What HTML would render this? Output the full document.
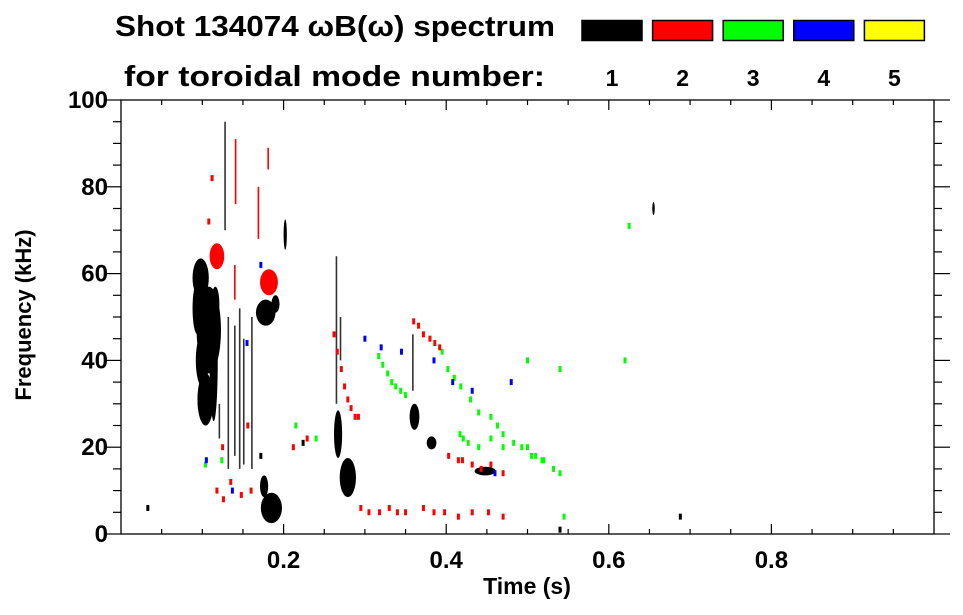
<!DOCTYPE html>
<html><head><meta charset="utf-8"><style>
body{margin:0;background:#fff;}
svg{display:block;font-family:"Liberation Sans",sans-serif;font-weight:bold;}
</style></head><body>
<svg id="chart" width="963" height="615">
<text x="115" y="36" font-size="29" textLength="440" lengthAdjust="spacingAndGlyphs">Shot 134074 ωB(ω) spectrum</text>
<text x="124" y="86" font-size="29" textLength="421" lengthAdjust="spacingAndGlyphs">for toroidal mode number:</text>
<g id="legend"></g>
<g id="marks"></g>
<g id="axes"></g>
<text x="527" y="594" font-size="23" text-anchor="middle">Time (s)</text>
<text transform="translate(31,315) rotate(-90)" font-size="22" text-anchor="middle">Frequency (kHz)</text>
</svg>
<script>
const modes=[1,2,3,4,5];
const modeColors=["#000","#f00","#0f0","#00f","#ff0"];
const xTicks=[0.2,0.4,0.6,0.8];
const yTicks=[0,20,40,60,80,100];
// blobs: center time, center freq, width (s), height (kHz), mode index
const blobT=[0.108,0.098,0.104,0.114,0.094,0.178,0.185,0.176,0.202,0.118,0.182,0.267,0.279,0.361,0.382,0.448,0.655,0.100,0.116,0.190];
const blobF=[47,59,31,40,52,51,6,11,69,64,58,23,13,27,21,14.5,75,40,53,53];
const blobDT=[0.030,0.020,0.020,0.010,0.012,0.024,0.026,0.010,0.004,0.018,0.022,0.010,0.020,0.012,0.012,0.026,0.003,0.016,0.010,0.010];
const blobDF=[20,9,12,28,12,6,7,5,7,6,6,11,9,6,3,2,3,12,8,4];
const blobMode=[0,0,0,0,0,0,0,0,0,1,1,0,0,0,0,0,0,0,0,0];
// thin vertical streaks: time, fLow, fHigh, mode
const lineT=[0.132,0.140,0.146,0.151,0.161,0.121,0.128,0.265,0.270,0.359,0.141,0.169,0.140,0.181];
const lineLo=[15,18,15,16,15,22,70,30,40,33,76,68,54,84];
const lineHi=[50,48,52,45,50,30,95,64,50,46,91,80,62,89];
const lineMode=[0,0,0,0,0,0,0,0,0,0,1,1,1,1];
// specks: time, freq, mode
const specT=[0.033,0.104,0.118,0.126,0.135,0.148,0.160,0.124,0.112,0.108,0.125,0.156,0.172,0.212,0.215,0.229,0.262,0.266,0.271,0.275,0.279,0.283,0.288,0.292,
0.295,0.305,0.318,0.330,0.340,0.350,0.372,0.385,0.398,0.415,0.432,0.452,0.470,
0.317,0.322,0.328,0.333,0.338,0.344,0.350,0.395,0.402,0.410,0.418,0.430,0.440,0.455,0.463,0.470,0.483,0.493,0.505,0.520,0.532,0.540,
0.417,0.421,0.427,0.440,0.455,0.470,0.500,0.510,0.518,0.545,
0.360,0.366,0.372,0.380,0.386,0.392,0.403,0.415,0.420,0.432,0.443,0.455,0.470,
0.105,0.137,0.155,0.172,0.300,0.320,0.345,0.385,0.408,0.432,0.460,0.480,0.500,0.540,0.620,0.688,0.625,0.240,0.224,0.540];
const specF=[6,16,10,8,12,9,10,17,82,72,20,25,18,20,25,22,46,42,38,34,31,29,27,27,
6,5,5,6,5,5,6,5,5,4,5,5,4,
41,39,37,35,34,33,32,42,38,36,34,31,28,27,25,23,21,20,18,17,15,14,
23,22,21,20,22,20,20,18,17,4,
49,48,46,45,44,43,18,17,17,16,15,16,14,
17,10,44,62,45,43,42,40,35,33,14,35,40,38,40,4,71,22,21,1];
const specMode=[0,2,1,1,1,1,1,2,1,1,1,1,0,1,2,1,1,1,1,1,1,1,1,1,
1,1,1,1,1,1,1,1,1,1,1,1,1,
2,2,2,2,2,2,2,2,2,2,2,2,2,2,2,2,2,2,2,2,2,2,
2,2,2,2,2,2,2,2,2,2,
1,1,1,1,1,1,1,1,1,1,1,1,1,
3,3,3,3,3,3,3,3,3,3,3,3,2,2,2,0,2,2,0,0];

const NS="http://www.w3.org/2000/svg";
const L=121,R=934,T=100,B=534;
const xs=t=>L+t/1.0*(R-L);
const ys=f=>B-f/100*(B-T);
function mk(tag,attrs,parent){const e=document.createElementNS(NS,tag);for(const k in attrs)e.setAttribute(k,attrs[k]);parent.appendChild(e);return e;}
const marks=document.getElementById('marks'),axes=document.getElementById('axes'),leg=document.getElementById('legend');

modes.forEach((m,i)=>{
  const x=582+i*70.6;
  const r=mk('rect',{x:x,y:20.5,width:60,height:20,fill:modeColors[i],stroke:'#000','stroke-width':1.5},leg);
  
  
  const t=mk('text',{x:x+30,y:86,'font-size':23,'text-anchor':'middle'},leg);
  t.textContent=m;
  
  
});

blobT.forEach((t,i)=>{
  const e=mk('ellipse',{cx:xs(t),cy:ys(blobF[i]),rx:(xs(blobDT[i])-xs(0))/2,ry:(ys(0)-ys(blobDF[i]))/2,fill:modeColors[blobMode[i]]},marks);
  
  
});
lineT.forEach((t,i)=>{
  const e=mk('line',{x1:xs(t),x2:xs(t),y1:ys(lineLo[i]),y2:ys(lineHi[i]),stroke:lineMode[i]?modeColors[lineMode[i]]:'#333','stroke-width':1.6},marks);
  
  
});
specT.forEach((t,i)=>{
  const e=mk('rect',{x:xs(t)-1.5,y:ys(specF[i])-3,width:3,height:6,fill:modeColors[specMode[i]]},marks);
  
  
});

const fr=mk('rect',{x:L,y:T,width:R-L,height:B-T,fill:'none',stroke:'#000','stroke-width':1.3},axes);


for(let k=1;k<20;k++){
  const t=k*0.05,x=xs(t),maj=(k%4===0);
  const len=maj?10:5;
  mk('line',{x1:x,x2:x,y1:B,y2:B-len,stroke:'#000','stroke-width':1.2},axes);
  mk('line',{x1:x,x2:x,y1:T,y2:T+len,stroke:'#000','stroke-width':1.2},axes);
}
xTicks.forEach(v=>{
  const t=mk('text',{x:xs(v),y:568,'font-size':24,'text-anchor':'middle'},axes);
  t.textContent=v.toFixed(1);
  
  
});
for(let k=0;k<=20;k++){
  const f=k*5,y=ys(f),maj=(k%4===0);
  const len=maj?16:8;
  mk('line',{x1:L,x2:L-len,y1:y,y2:y,stroke:'#000','stroke-width':1.2},axes);
  mk('line',{x1:R,x2:R+len,y1:y,y2:y,stroke:'#000','stroke-width':1.2},axes);
}
yTicks.forEach(v=>{
  const t=mk('text',{x:108,y:ys(v)+8,'font-size':24,'text-anchor':'end'},axes);
  t.textContent=v;
  
  
});
</script>
</body></html>
